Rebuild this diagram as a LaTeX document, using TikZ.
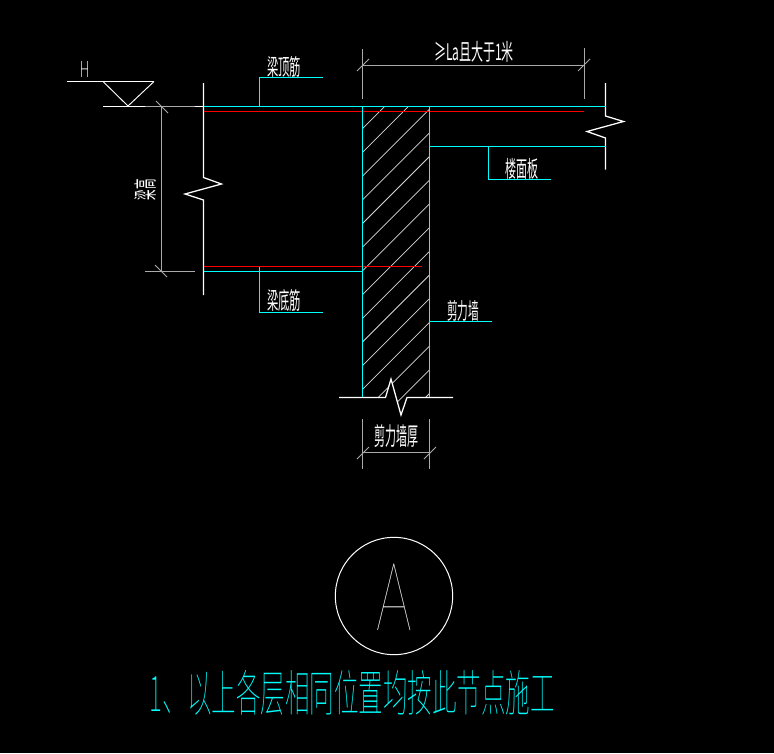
\documentclass[tikz,border=0pt]{standalone}
\usepackage{fontspec}
\usepackage{graphicx}
\newfontfamily\cjk{Noto Sans CJK SC}
\newfontfamily\cjkthin{Noto Sans CJK SC Thin}
\newfontfamily\thinf{Lato Thin}
\newfontfamily\lightf{Lato Light}
\newdimen\pxu \pxu=.75pt
\newcommand\fitbox[3]{\resizebox*{#1\pxu}{#2\pxu}{#3}}
\definecolor{cadcyan}{RGB}{0,255,255}
\definecolor{cadred}{RGB}{255,0,0}
\definecolor{cadgray}{RGB}{170,170,170}
\tikzset{
  cyanline/.style={draw=cadcyan,line width=.95pt},
  redline/.style={draw=cadred,line width=.95pt},
  whiteline/.style={draw=white,line width=.95pt},
  dimline/.style={draw=cadgray,line width=.95pt},
  tickline/.style={draw=cadgray,line width=.6pt},
  hatchline/.style={draw=white!85!black,line width=.55pt},
  lab/.style={inner sep=0pt,outer sep=0pt,text=white,font=\cjk},
  cyanlab/.style={lab,text=cadcyan}
}
\begin{document}
\begin{tikzpicture}[x=.75pt,y=-.75pt]
\useasboundingbox (0,0) rectangle (774,753);
\fill[black] (0,0) rectangle (774,753);
% hatching
\begin{scope}
\clip (362.5,107) -- (429.5,107) -- (429.5,397) -- (407,397) -- (401,415) -- (391,379) -- (385,397) -- (362.5,397) -- cycle;
\foreach \k in {0,...,14}{
  \pgfmathsetmacro\c{491.2+23.7*\k}
  \draw[hatchline] (340,\c-340) -- (450,\c-450);
}
\end{scope}
% level mark
\draw[whiteline] (67,81.5) -- (154,81.5);
\draw[whiteline,line width=.7pt] (103,81.5) -- (128,106) -- (154,81.5);
\draw[whiteline] (103,106.5) -- (145,106.5);
\draw[whiteline] (195,106.5) -- (203.5,106.5);
% beam depth dimension
\draw[dimline] (145,106.5) -- (195,106.5);
\draw[dimline] (145,271.5) -- (195,271.5);
\draw[dimline] (161.5,106.5) -- (161.5,271.5);
\draw[tickline] (156,101) -- (168,113);
\draw[tickline] (155,265) -- (167,277);
% break lines
\draw[whiteline] (203.5,83) -- (203.5,177.5) -- (221.5,184) -- (185,194) -- (203.5,200) -- (203.5,295);
\draw[whiteline] (605.5,83) -- (605.5,116) -- (623.5,121.5) -- (587,131.5) -- (605.5,138) -- (605.5,169.5);
\draw[whiteline] (339,397.5) -- (385.5,397.5) -- (391,379) -- (401,415) -- (407,397.5) -- (453,397.5);
% rebar
\draw[redline] (203.5,111.5) -- (584,111.5);
\draw[redline] (203.5,266.5) -- (421.5,266.5);
\draw[cyanline] (203.5,106.5) -- (605.5,106.5);
\draw[cyanline] (203.5,271.5) -- (362.5,271.5);
\draw[cyanline] (362.5,106.5) -- (362.5,397);
\draw[cyanline] (429.5,106.5) -- (429.5,397);
\draw[cyanline] (429.5,146.5) -- (605.5,146.5);
% leaders
\draw[cyanline] (259.5,106.5) -- (259.5,77.5) -- (323,77.5);
\draw[cyanline] (259.5,266.5) -- (259.5,312.5) -- (323,312.5);
\draw[cyanline] (488.5,146.5) -- (488.5,179.5) -- (551,179.5);
\draw[cyanline] (429.5,321.5) -- (492,321.5);
% top dimension
\draw[dimline] (362.5,49) -- (362.5,99);
\draw[dimline] (584.5,48) -- (584.5,99);
\draw[dimline] (362.5,65.5) -- (584.5,65.5);
\draw[tickline] (357,71) -- (369,59);
\draw[tickline] (578,71) -- (590,59);
% wall thickness dimension
\draw[dimline] (362.5,419) -- (362.5,469);
\draw[dimline] (429.5,419) -- (429.5,469);
\draw[dimline] (362.5,452.5) -- (429.5,452.5);
\draw[tickline] (357,459) -- (369,447);
\draw[tickline] (424,459) -- (436,447);
% labels
\node[lab] (h) at (84.5,69) {\lightf\fitbox{9.5}{16}{H}};
\node[lab] (top) at (284,66.5) {\fitbox{34}{21}{梁顶筋}};
\node[lab] (bot) at (284,301) {\fitbox{34}{22}{梁底筋}};
\node[lab] (slab) at (521.5,168.5) {\fitbox{33}{21}{楼面板}};
\node[lab] (wall) at (463,310.5) {\fitbox{32}{21}{剪力墙}};
\node[lab] (thick) at (396,436.5) {\fitbox{44}{23}{剪力墙厚}};
\node[lab,rotate=90] (depth) at (145,189.5) {\fitbox{21}{22}{梁高}};
\node[lab] (la) at (474,51.5) {\fitbox{80}{21}{≥La且大于1米}};
% circle mark
\node[draw=white,line width=.75pt,circle,minimum size=88pt,inner sep=0pt] (ring) at (394,596) {};
\node[lab] (letter) at (394.2,597.3) {\thinf\fitbox{35.5}{66.5}{A}};
\node[cyanlab] (note) at (352.5,693) {\cjkthin\fitbox{405}{45}{1、以上各层相同位置均按此节点施工}};
\end{tikzpicture}
\end{document}
